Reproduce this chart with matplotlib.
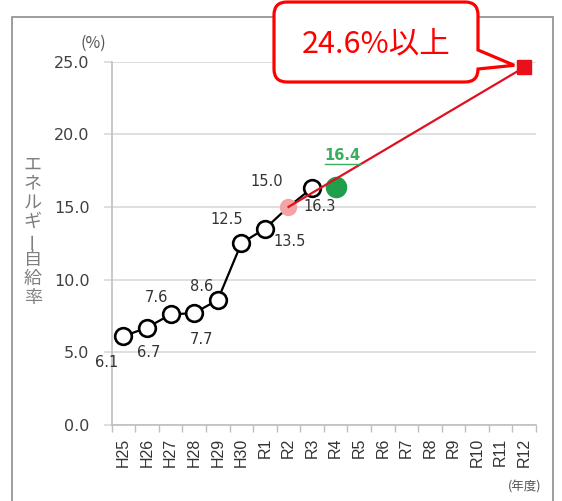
import matplotlib
matplotlib.use("Agg")
import matplotlib.pyplot as plt
from matplotlib.path import Path
from matplotlib.patches import PathPatch, Rectangle
from matplotlib.lines import Line2D
from matplotlib.transforms import IdentityTransform

plt.rcParams["font.family"] = ["DejaVu Sans", "Noto Sans CJK JP"]

# fiscal years on the x axis
years = ["H25", "H26", "H27", "H28", "H29", "H30", "R1", "R2", "R3",
         "R4", "R5", "R6", "R7", "R8", "R9", "R10", "R11", "R12"]
# energy self-sufficiency rate, H25..R3
actual = [6.1, 6.7, 7.6, 7.7, 8.6, 12.5, 13.5, 15.0, 16.3]
latest_year = "R4"
latest_value = 16.4
base_year = "R2"
base_value = 15.0
target_year = "R12"
target_value = 24.6
target_text = "24.6%以上"
ylabel_text = "エネルギー自給率"

# label offsets (points) for each actual value
label_offsets = [(-12, -19), (1, -18), (-10, 12.5), (5.4, -19.4), (-11.6, 10),
                 (-10.6, 17.2), (18, -9.4), (-15.8, 18.1), (5.6, -13.5)]

W, H = 562, 501
fig = plt.figure(figsize=(W / 100, H / 100), dpi=100, facecolor="white")
ax = fig.add_axes([111.7 / W, 1 - 425 / H, (536 - 111.7) / W, (425 - 61.5) / H])

xpos = {y: i for i, y in enumerate(years)}
xs = list(range(len(actual)))

grid_c = "#d9d9d9"
ax.set_xlim(-0.5, len(years) - 0.5)
ax.set_ylim(0, 25)
ax.set_yticks([0, 5, 10, 15, 20, 25])
ax.set_yticklabels([f"{v:.1f}" for v in [0, 5, 10, 15, 20, 25]], fontsize=11.5, color="#404040")
ax.yaxis.grid(True, color=grid_c, lw=1.2)
ax.tick_params(axis="y", length=6, color=grid_c, width=1.2, pad=10)
ax.set_xticks(range(len(years)))
ax.set_xticklabels(years, rotation=90, fontsize=11.5, color="#333333",
                   family="Liberation Sans")
ax.tick_params(axis="x", which="major", length=0, pad=9)
ax.set_xticks([i - 0.5 for i in range(len(years) + 1)], minor=True)
ax.tick_params(axis="x", which="minor", length=5, color="#bfbfbf", width=1)
for s in ["top", "right"]:
    ax.spines[s].set_visible(False)
for s in ["left", "bottom"]:
    ax.spines[s].set_color("#bfbfbf")
    ax.spines[s].set_linewidth(1.2)
ax.set_axisbelow(True)

# actual values (the base year gets its own filled marker)
open_x = [x for x in xs if years[x] != base_year]
open_v = [actual[x] for x in open_x]
ax.plot(xs, actual, color="black", lw=1.6, zorder=3)
ax.plot(open_x, open_v, "o", ms=12, mfc="white", mec="black", mew=1.9, zorder=4)
ax.plot([xpos[base_year]], [base_value], "o", ms=12.5, mfc="#f4a4a4", mec="none", zorder=5)
ax.plot([xpos[latest_year]], [latest_value], "o", ms=15.5, mfc="#1f9e4b", mec="none", zorder=5)

# path to target
ax.plot([xpos[base_year], xpos[target_year]], [base_value, target_value],
        color="#e01020", lw=1.6, zorder=6)
ax.plot([xpos[target_year]], [target_value], "s", ms=9.5, color="#e8101a",
        zorder=7, clip_on=False)

for x, v, off in zip(xs, actual, label_offsets):
    ax.annotate(f"{v:.1f}", (x, v), xytext=off, textcoords="offset points",
                ha="center", va="center", fontsize=10.5, color="#333333", zorder=8)
lt = ax.annotate(f"{latest_value:.1f}", (xpos[latest_year], latest_value), xytext=(5, 22.7),
                 textcoords="offset points", ha="center", va="center", fontsize=10.5,
                 color="#3aae5c", fontweight="bold", zorder=8)

fig.text(93 / W, 1 - 43 / H, "(%)", ha="center", va="center", fontsize=11.5, color="#555555",
         family=["Noto Sans CJK JP"])
fig.text(525 / W, 1 - 487 / H, "(年度)", ha="center", va="center", fontsize=9,
         color="#555555", family=["Noto Sans CJK JP"])

# stacked vertical axis title
for i, ch in enumerate(ylabel_text):
    fig.text(32.7 / W, 1 - (164.5 + i * 19) / H, ch, ha="center", va="center",
             fontsize=13, color="#7f7f7f", family=["Noto Sans CJK JP"],
             rotation=90 if ch == "ー" else 0)

# outer frame
fig.patches.append(Rectangle((12.3 / W, -0.05), (552.7 - 12.3) / W, 1.05 - 17.3 / H,
                             transform=fig.transFigure, fill=False, ec="#8c8c8c", lw=1.2,
                             zorder=0))

# speech bubble pointing at the target marker
tip_x, tip_y = ax.transData.transform((xpos[target_year], target_value))
tip = (tip_x - 10, H - tip_y - 2)
L, R, T, B, r = 274, 478, 2, 82, 13
pts = [(L + r, T), (R - r, T), (R, T), (R, T + r), (R, 50), tip, (R, B - r),
       (R, B), (R - r, B), (L + r, B), (L, B), (L, B - r), (L, T + r), (L, T), (L + r, T)]
codes = [Path.MOVETO, Path.LINETO, Path.CURVE3, Path.CURVE3, Path.LINETO, Path.LINETO,
         Path.LINETO, Path.CURVE3, Path.CURVE3, Path.LINETO, Path.CURVE3, Path.CURVE3,
         Path.LINETO, Path.CURVE3, Path.CURVE3]
bubble = Path([(px / W, 1 - py / H) for px, py in pts], codes)
fig.patches.append(PathPatch(bubble, transform=fig.transFigure, fc="white",
                             ec="#ff0000", lw=2.3, zorder=10))
fig.text(376 / W, 1 - 44 / H, target_text, ha="center", va="center", fontsize=22,
         color="#ff0000", family=["Noto Sans CJK JP"], zorder=11)

# underline the latest value
fig.canvas.draw()
bb = lt.get_window_extent()
fig.lines.append(Line2D([bb.x0, bb.x1], [bb.y0 - 1, bb.y0 - 1], transform=IdentityTransform(),
                        color="#3aae5c", lw=1))

fig.savefig("out.png", dpi=100, facecolor="white")
